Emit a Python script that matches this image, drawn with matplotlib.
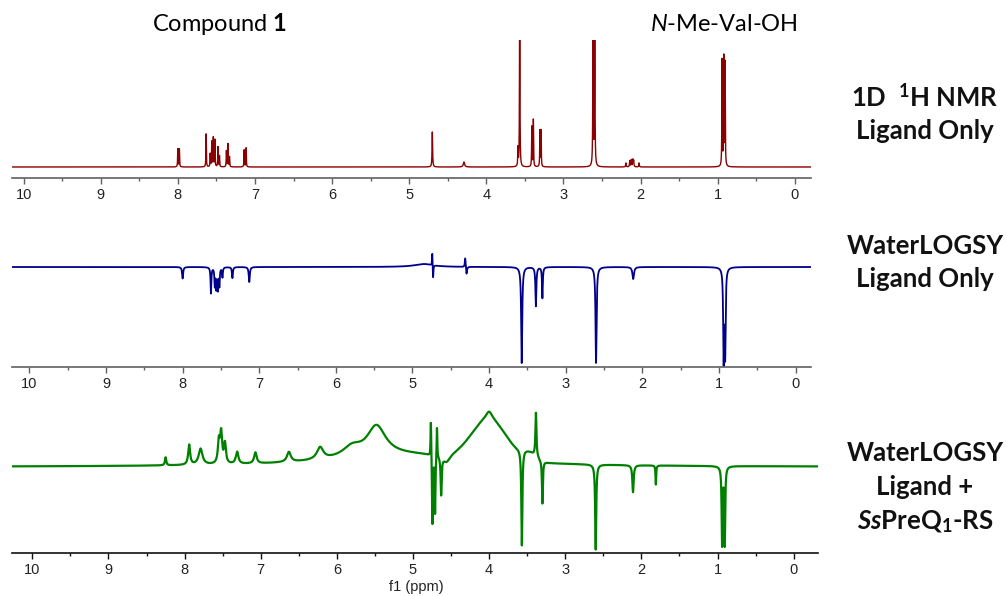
import numpy as np
import matplotlib
matplotlib.use("Agg")
import matplotlib.pyplot as plt
from matplotlib.ticker import MultipleLocator

# peak lists: position (ppm), height (px above baseline), half width (ppm)
red_ppm = [8.00, 7.98, 7.633, 7.58, 7.56, 7.54, 7.52, 7.48, 7.46, 7.37, 7.35, 7.33, 7.14, 7.115,
           4.70, 4.29, 3.59, 3.567, 3.41, 3.39, 3.305, 3.29, 2.616, 2.594,
           2.19, 2.14, 2.12, 2.10, 2.09, 2.02, 0.943, 0.921, 0.904]
red_height = [18, 18, 33, 13, 25, 29, 27, 20, 11, 16, 23, 10, 17, 19,
              35, 5, 18, 200, 40, 47, 36, 36, 200, 200,
              4, 6, 7, 7, 6, 4, 106, 108, 103]
red_width = [0.003] * 14 + [0.004, 0.01] + [0.003] * 8 + [0.004] * 6 + [0.003] * 3

blue_ppm = [8.00, 7.63, 7.58, 7.56, 7.54, 7.52, 7.48, 7.35, 7.13,
            4.85, 4.742, 4.732, 4.312, 4.296,
            3.575, 3.39, 3.305, 2.605, 2.12, 0.94, 0.92]
blue_height = [-11.5, -26, -18, -20, -21, -18, -10, -11, -15,
               3, 14, -14, 10, -8,
               -96, -39, -31, -96, -12, -90, -85]
blue_width = [0.008, 0.006, 0.006, 0.006, 0.006, 0.006, 0.006, 0.007, 0.008,
              0.15, 0.004, 0.005, 0.006, 0.008,
              0.008, 0.007, 0.006, 0.008, 0.012, 0.007, 0.007]

# green: sharp / medium lines (Lorentzian)
green_ppm = [5.0, 4.0, 4.56, 5.48, 5.80, 6.22, 6.63, 7.07, 7.31, 7.55, 7.52, 7.47, 7.79, 7.94, 8.25,
             4.765, 4.745, 4.71, 4.685, 4.63,
             3.57, 3.385, 3.30, 2.60, 2.11, 1.81, 0.94, 0.905]
green_height = [12, 8, -8, 30, 10, 12, 10, 11, 12, 22, 30, 20, 16, 20, 8,
                38, -70, -58, 32, -38,
                -96, 44, -43, -85, -27, -19, -78, -78]
green_width = [1.2, 0.05, 0.06, 0.15, 0.15, 0.05, 0.03, 0.02, 0.02, 0.015, 0.015, 0.015, 0.03, 0.015, 0.01,
               0.005, 0.006, 0.006, 0.005, 0.008,
               0.008, 0.008, 0.007, 0.008, 0.01, 0.005, 0.007, 0.007]
# green: broad protein bands (Gaussian): position, height, sigma
green_band_ppm = [4.0, 3.48]
green_band_height = [40, 8]
green_band_sigma = [0.23, 0.10]

W, H = 1006, 596
ppm = np.linspace(10.5, -0.5, 22001)


def spectrum(pos, hgt, wid):
    y = np.zeros_like(ppm)
    for p, h, w in zip(pos, hgt, wid):
        y += h * w ** 2 / ((ppm - p) ** 2 + w ** 2)
    return y


def bands(pos, hgt, sig):
    y = np.zeros_like(ppm)
    for p, h, s in zip(pos, hgt, sig):
        y += h * np.exp(-(ppm - p) ** 2 / (2 * s ** 2))
    return y


def setup_axis(ax, xlim, ylim, spine_color):
    ax.set_xlim(xlim)
    ax.set_ylim(ylim)
    for s in ["left", "top", "right"]:
        ax.spines[s].set_visible(False)
    ax.spines["bottom"].set_color(spine_color)
    ax.spines["bottom"].set_linewidth(1.2)
    ax.set_yticks([])
    ax.xaxis.set_major_locator(MultipleLocator(1))
    ax.xaxis.set_minor_locator(MultipleLocator(0.5))
    ax.tick_params(axis="x", which="major", direction="out", length=4, width=1,
                   color=spine_color, labelsize=10.5, pad=3, labelcolor="#222222")
    ax.tick_params(axis="x", which="minor", direction="out", length=2.5, width=1,
                   color=spine_color)
    for lab in ax.get_xticklabels():
        lab.set_family("Liberation Sans")
    ax.patch.set_alpha(0)


plt.rcParams["mathtext.fontset"] = "custom"
plt.rcParams["mathtext.rm"] = "Lato"
plt.rcParams["mathtext.it"] = "Lato:italic"
plt.rcParams["mathtext.bf"] = "Lato:bold"
plt.rcParams["mathtext.bfit"] = "Lato:italic:bold"
plt.rcParams["font.family"] = ["Lato", "DejaVu Sans"]

fig = plt.figure(figsize=(W / 100, H / 100), dpi=100)

ax1 = fig.add_axes([12 / W, 1 - 178 / H, 799 / W, 138 / H])
ax1.plot(ppm, spectrum(red_ppm, red_height, red_width), color="#8B0000", lw=1.0)
setup_axis(ax1, (10.15, -0.21), (-11, 127), "#606060")

ax2 = fig.add_axes([12 / W, 1 - 367 / H, 799 / W, 127 / H])
ax2.plot(ppm, spectrum(blue_ppm, blue_height, blue_width), color="#00008B", lw=1.3)
setup_axis(ax2, (10.226, -0.20), (-100, 27), "#606060")

ax3 = fig.add_axes([12 / W, 1 - 553 / H, 806 / W, 148 / H])
green = spectrum(green_ppm, green_height, green_width) + bands(green_band_ppm, green_band_height, green_band_sigma)
ax3.plot(ppm, green, color="#008000", lw=1.6)
setup_axis(ax3, (10.267, -0.32), (-86, 62), "#111111")

fig.text(416 / W, 1 - 587 / H, "f1 (ppm)", ha="center", va="center",
         fontsize=10.5, family="Liberation Sans", color="#222222")

fig.text(219.5 / W, 1 - 31 / H, r"Compound $\mathbf{1}$", ha="center", va="baseline", fontsize=17)
fig.text(723.5 / W, 1 - 31 / H, r"$\mathit{N}$-Me-Val-OH", ha="center", va="baseline", fontsize=17)

labels = [
    (r"1D  $^{\mathbf{1}}$H NMR", 106),
    ("Ligand Only", 139),
    ("WaterLOGSY", 254),
    ("Ligand Only", 287),
    ("WaterLOGSY", 461),
    ("Ligand +", 495),
    (r"$\mathbfit{Ss}$PreQ$_{\mathbf{1}}$-RS", 529),
]
for txt, yb in labels:
    fig.text(925 / W, 1 - yb / H, txt, ha="center", va="baseline", fontsize=18.5,
             fontweight="bold", color="#111111")

fig.savefig("out.png", dpi=100)
